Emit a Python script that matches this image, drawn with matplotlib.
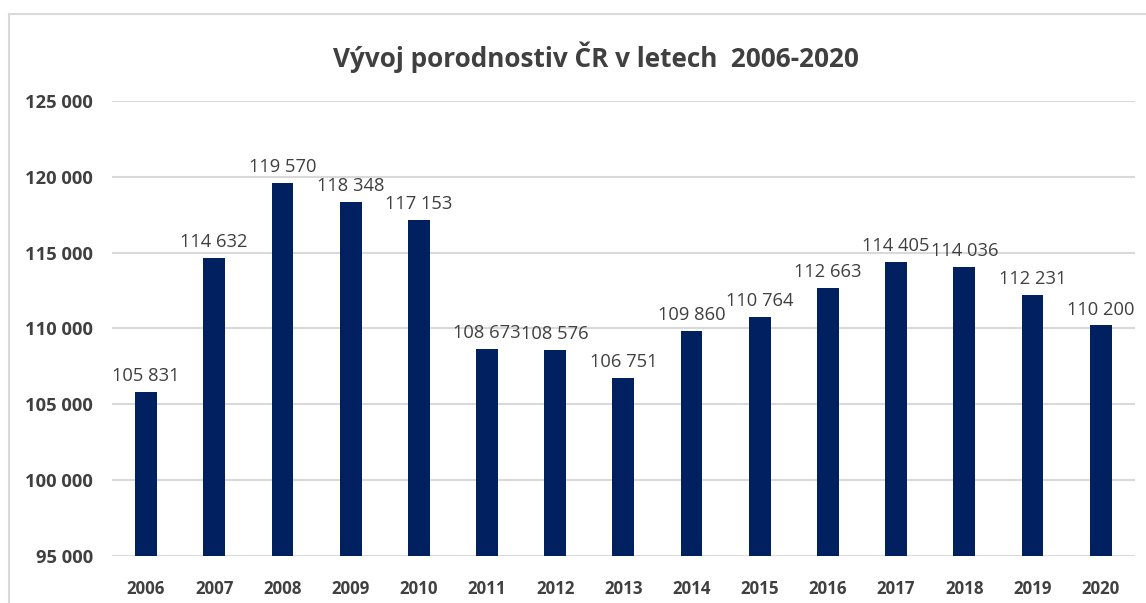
import matplotlib.pyplot as plt
from matplotlib.lines import Line2D

# data
roky = ["2006", "2007", "2008", "2009", "2010", "2011", "2012", "2013",
        "2014", "2015", "2016", "2017", "2018", "2019", "2020"]
porody = [105831, 114632, 119570, 118348, 117153, 108673, 108576, 106751,
          109860, 110764, 112663, 114405, 114036, 112231, 110200]
y_ticks = [95000, 100000, 105000, 110000, 115000, 120000, 125000]

plt.rcParams['font.family'] = ['Open Sans', 'DejaVu Sans']
text_col = "#404040"

def fmt(v):
    return f"{v:,}".replace(",", " ")

fig = plt.figure(figsize=(11.46, 6.03), dpi=100)
ax = fig.add_axes([0.0977, 0.078, 0.8925, 0.7545])

x = range(len(roky))
ax.bar(x, porody, width=0.32, color="#002060", zorder=3)
for xi, v in zip(x, porody):
    ax.annotate(fmt(v), (xi, v), xytext=(0, 5), textcoords="offset points",
                ha="center", va="bottom", fontsize=13.2, color=text_col)

ax.set_ylim(95000, 125000)
ax.set_xlim(-0.5, len(roky) - 0.5)
ax.set_yticks(y_ticks)
ax.set_yticklabels([fmt(t) for t in y_ticks], fontsize=13.2,
                   fontweight="bold", color=text_col)
ax.set_xticks(list(x))
ax.set_xticklabels(roky, fontsize=12.2, fontweight="bold", color=text_col)
ax.tick_params(length=0)
ax.tick_params(axis="y", pad=13.5)
ax.tick_params(axis="x", pad=17)
ax.grid(axis="y", color="#d9d9d9", lw=1.5, zorder=0)
for s in ax.spines.values():
    s.set_visible(False)

fig.text(0.52, 0.905, "Vývoj porodnostiv ČR v letech  2006-2020",
         ha="center", va="center", fontsize=18.8, fontweight="bold",
         color=text_col)

# outer chart frame (cut off at right/bottom)
fig.add_artist(Line2D([9 / 1146, 1], [1 - 14 / 603] * 2,
                      transform=fig.transFigure, color="#d9d9d9", lw=1.5))
fig.add_artist(Line2D([9 / 1146] * 2, [0, 1 - 14 / 603],
                      transform=fig.transFigure, color="#d9d9d9", lw=1.5))

fig.savefig("out.png", dpi=100)
